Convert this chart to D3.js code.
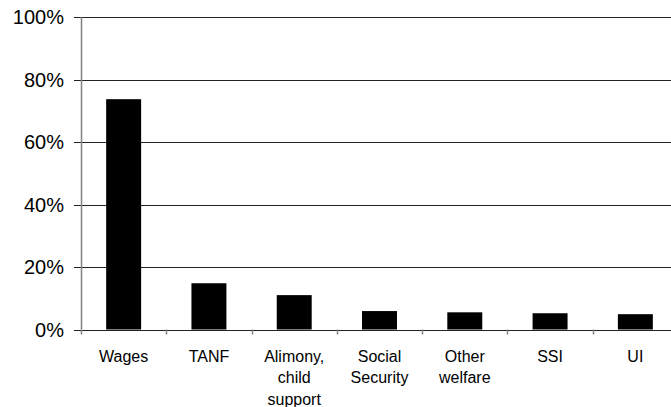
<!DOCTYPE html>
<html>
<head>
<meta charset="utf-8">
<script src="https://cdn.jsdelivr.net/npm/d3@7"></script>
<style>
  html, body { margin: 0; padding: 0; background: #fff; }
  svg { display: block; overflow: hidden; }
  text { font-family: "Liberation Sans", Arial, sans-serif; fill: #000; }
</style>
</head>
<body>
<svg id="chart" width="671" height="407"></svg>
<script>
const categories = ["Wages", "TANF", "Alimony, child support", "Social Security", "Other welfare", "SSI", "UI"];
const categoryLines = [["Wages"], ["TANF"], ["Alimony,", "child", "support"], ["Social", "Security"], ["Other", "welfare"], ["SSI"], ["UI"]];
const values = [73.7, 14.8, 11.0, 5.9, 5.5, 5.2, 4.9];
const yTicks = [0, 20, 40, 60, 80, 100];

(function() {
const svg = d3.select("#chart");
const mLeft = 81, mRight = 678, mTop = 17, mBottom = 329.5;

const x = d3.scaleBand().domain(categories).range([mLeft, mRight]).paddingInner(0.59).paddingOuter(0.295);
const y = d3.scaleLinear().domain([0, 100]).range([mBottom, mTop]);

// gridlines with left ticks
svg.append("g").selectAll("line").data(yTicks.filter(d => d > 0)).join("line")
  .attr("x1", mLeft - 7).attr("x2", mRight)
  .attr("y1", d => Math.round(y(d)) + 0.5).attr("y2", d => Math.round(y(d)) + 0.5)
  .attr("stroke", "#222").attr("stroke-width", 1);

// bars
svg.append("g").selectAll("rect").data(values).join("rect")
  .attr("x", (d, i) => x(categories[i]))
  .attr("width", x.bandwidth())
  .attr("y", d => y(d))
  .attr("height", d => y(0) - y(d))
  .attr("fill", "#000");

// y axis line (gray)
svg.append("line").attr("x1", mLeft + 0.5).attr("x2", mLeft + 0.5).attr("y1", mTop).attr("y2", mBottom)
  .attr("stroke", "#808080").attr("stroke-width", 1.5);

// x axis baseline + zero tick
svg.append("line").attr("x1", mLeft - 7).attr("x2", mRight)
  .attr("y1", Math.round(mBottom) + 0.5).attr("y2", Math.round(mBottom) + 0.5)
  .attr("stroke", "#222").attr("stroke-width", 1);

// category boundary ticks (gray)
const step = x.step();
const boundaries = d3.range(categories.length + 1).map(i => x(categories[0]) - x.paddingOuter() * step + i * step);
svg.append("g").selectAll("line").data(boundaries).join("line")
  .attr("x1", d => Math.round(d) + 0.5).attr("x2", d => Math.round(d) + 0.5)
  .attr("y1", mBottom).attr("y2", mBottom + 5)
  .attr("stroke", "#808080").attr("stroke-width", 1.5);

// y labels
svg.append("g").selectAll("text").data(yTicks).join("text")
  .attr("x", 64).attr("y", d => y(d))
  .attr("dy", "0.36em")
  .attr("text-anchor", "end")
  .attr("font-size", "20px")
  .text(d => d + "%");

// x labels
const xl = svg.append("g").selectAll("text").data(categories).join("text")
  .attr("x", d => x(d) + x.bandwidth() / 2)
  .attr("y", mBottom + 32)
  .attr("text-anchor", "middle")
  .attr("font-size", "16px");
xl.each(function(d, i) {
  d3.select(this).selectAll("tspan").data(categoryLines[i]).join("tspan")
    .attr("x", x(d) + x.bandwidth() / 2)
    .attr("dy", (t, j) => j === 0 ? 0 : 21.5)
    .text(t => t);
});
})();
</script>
</body>
</html>
